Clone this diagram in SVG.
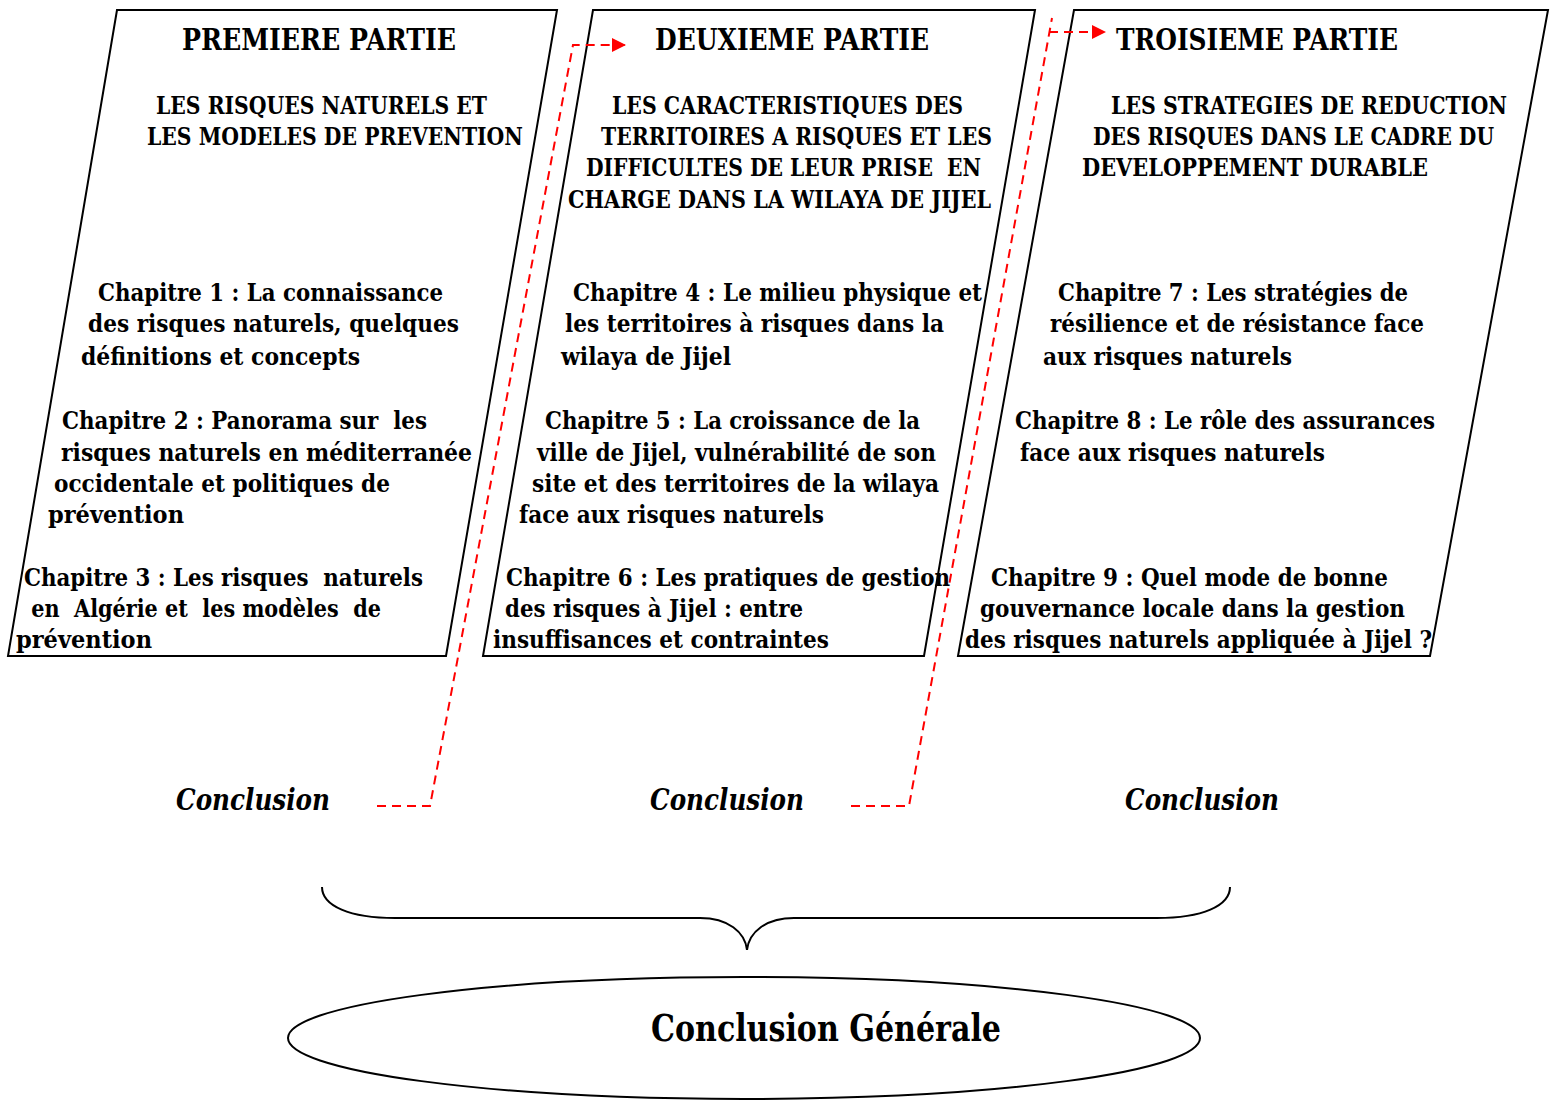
<svg xmlns="http://www.w3.org/2000/svg" width="1551" height="1102" viewBox="0 0 1551 1102">
<style>
.box{fill:#fff;stroke:#000;stroke-width:2}
.h{font-family:"DejaVu Serif","Liberation Serif",serif;font-weight:bold;font-size:30px;fill:#000}
.s{font-family:"DejaVu Serif","Liberation Serif",serif;font-weight:bold;font-size:24px;fill:#000}
.c{font-family:"DejaVu Serif","Liberation Serif",serif;font-weight:bold;font-size:24px;fill:#000}
.con{font-family:"DejaVu Serif","Liberation Serif",serif;font-weight:bold;font-style:italic;font-size:30px;fill:#000}
.g{font-family:"DejaVu Serif","Liberation Serif",serif;font-weight:bold;font-size:38px;fill:#000}
.dash{fill:none;stroke:#f00;stroke-width:2;stroke-dasharray:9,6}
</style>
<defs>
<marker id="arr" viewBox="0 0 10 10" refX="10" refY="5" markerWidth="7.5" markerHeight="7" orient="auto" markerUnits="strokeWidth">
<path d="M0,0 L10,5 L0,10 Z" fill="#f00"/>
</marker>
</defs>
<g id="part1">
<polygon class="box" points="117,10 557,10 446,656 8,656"/>
<text class="h" x="182" y="50" textLength="274" lengthAdjust="spacingAndGlyphs">PREMIERE PARTIE</text>
<text class="s" x="156" y="114" textLength="331" lengthAdjust="spacingAndGlyphs">LES RISQUES NATURELS ET</text>
<text class="s" x="147" y="145" textLength="376" lengthAdjust="spacingAndGlyphs">LES MODELES DE PREVENTION</text>
<text class="c" x="98" y="301" textLength="345" lengthAdjust="spacingAndGlyphs">Chapitre 1 : La connaissance</text>
<text class="c" x="88" y="332" textLength="371" lengthAdjust="spacingAndGlyphs">des risques naturels, quelques</text>
<text class="c" x="81" y="365" textLength="279" lengthAdjust="spacingAndGlyphs">définitions et concepts</text>
<text class="c" x="62" y="429" textLength="365" lengthAdjust="spacingAndGlyphs" xml:space="preserve">Chapitre 2 : Panorama sur  les</text>
<text class="c" x="61" y="461" textLength="411" lengthAdjust="spacingAndGlyphs">risques naturels en méditerranée</text>
<text class="c" x="54" y="492" textLength="336" lengthAdjust="spacingAndGlyphs">occidentale et politiques de</text>
<text class="c" x="48" y="523" textLength="136" lengthAdjust="spacingAndGlyphs">prévention</text>
<text class="c" x="24" y="586" textLength="399" lengthAdjust="spacingAndGlyphs" xml:space="preserve">Chapitre 3 : Les risques  naturels</text>
<text class="c" x="24" y="617" textLength="357" lengthAdjust="spacingAndGlyphs" xml:space="preserve"> en  Algérie et  les modèles  de</text>
<text class="c" x="16" y="648" textLength="136" lengthAdjust="spacingAndGlyphs">prévention</text>
</g>
<g id="part2">
<polygon class="box" points="593,10 1035,10 924,656 483,656"/>
<text class="h" x="655" y="50" textLength="274" lengthAdjust="spacingAndGlyphs">DEUXIEME PARTIE</text>
<text class="s" x="612" y="114" textLength="351" lengthAdjust="spacingAndGlyphs">LES CARACTERISTIQUES DES</text>
<text class="s" x="601" y="145" textLength="391" lengthAdjust="spacingAndGlyphs">TERRITOIRES A RISQUES ET LES</text>
<text class="s" x="586" y="176" textLength="395" lengthAdjust="spacingAndGlyphs" xml:space="preserve">DIFFICULTES DE LEUR PRISE  EN</text>
<text class="s" x="568" y="208" textLength="423" lengthAdjust="spacingAndGlyphs">CHARGE DANS LA WILAYA DE JIJEL</text>
<text class="c" x="573" y="301" textLength="409" lengthAdjust="spacingAndGlyphs">Chapitre 4 : Le milieu physique et</text>
<text class="c" x="565" y="332" textLength="379" lengthAdjust="spacingAndGlyphs">les territoires à risques dans la</text>
<text class="c" x="561" y="365" textLength="170" lengthAdjust="spacingAndGlyphs">wilaya de Jijel</text>
<text class="c" x="545" y="429" textLength="375" lengthAdjust="spacingAndGlyphs">Chapitre 5 : La croissance de la</text>
<text class="c" x="537" y="461" textLength="399" lengthAdjust="spacingAndGlyphs">ville de Jijel, vulnérabilité de son</text>
<text class="c" x="532" y="492" textLength="407" lengthAdjust="spacingAndGlyphs">site et des territoires de la wilaya</text>
<text class="c" x="519" y="523" textLength="305" lengthAdjust="spacingAndGlyphs">face aux risques naturels</text>
<text class="c" x="506" y="586" textLength="444" lengthAdjust="spacingAndGlyphs">Chapitre 6 : Les pratiques de gestion</text>
<text class="c" x="505" y="617" textLength="298" lengthAdjust="spacingAndGlyphs">des risques à Jijel : entre</text>
<text class="c" x="493" y="648" textLength="336" lengthAdjust="spacingAndGlyphs">insuffisances et contraintes</text>
</g>
<g id="part3">
<polygon class="box" points="1074,10 1548,10 1430,656 958,656"/>
<text class="h" x="1116" y="50" textLength="282" lengthAdjust="spacingAndGlyphs">TROISIEME PARTIE</text>
<text class="s" x="1111" y="114" textLength="396" lengthAdjust="spacingAndGlyphs">LES STRATEGIES DE REDUCTION</text>
<text class="s" x="1093" y="145" textLength="401" lengthAdjust="spacingAndGlyphs">DES RISQUES DANS LE CADRE DU</text>
<text class="s" x="1082" y="176" textLength="346" lengthAdjust="spacingAndGlyphs">DEVELOPPEMENT DURABLE</text>
<text class="c" x="1058" y="301" textLength="350" lengthAdjust="spacingAndGlyphs">Chapitre 7 : Les stratégies de</text>
<text class="c" x="1050" y="332" textLength="374" lengthAdjust="spacingAndGlyphs">résilience et de résistance face</text>
<text class="c" x="1043" y="365" textLength="249" lengthAdjust="spacingAndGlyphs">aux risques naturels</text>
<text class="c" x="1015" y="429" textLength="420" lengthAdjust="spacingAndGlyphs">Chapitre 8 : Le rôle des assurances</text>
<text class="c" x="1020" y="461" textLength="305" lengthAdjust="spacingAndGlyphs">face aux risques naturels</text>
<text class="c" x="991" y="586" textLength="397" lengthAdjust="spacingAndGlyphs">Chapitre 9 : Quel mode de bonne</text>
<text class="c" x="980" y="617" textLength="425" lengthAdjust="spacingAndGlyphs">gouvernance locale dans la gestion</text>
<text class="c" x="965" y="648" textLength="467" lengthAdjust="spacingAndGlyphs">des risques naturels appliquée à Jijel ?</text>
</g>
<g id="conclusions">
<text class="con" x="176" y="810" textLength="154" lengthAdjust="spacingAndGlyphs">Conclusion</text>
<text class="con" x="650" y="810" textLength="154" lengthAdjust="spacingAndGlyphs">Conclusion</text>
<text class="con" x="1125" y="810" textLength="154" lengthAdjust="spacingAndGlyphs">Conclusion</text>
</g>
<g id="general">
<ellipse cx="744" cy="1038" rx="456" ry="61" fill="#fff" stroke="#000" stroke-width="2"/>
<text class="g" x="651" y="1041" textLength="350" lengthAdjust="spacingAndGlyphs">Conclusion Générale</text>
</g>
<g id="connectors">
<path class="dash" d="M377,806 L430,806 L573,45 L626,45" marker-end="url(#arr)"/>
<path class="dash" d="M851,806 L909,806 L1052,18"/>
<path class="dash" d="M1049,32 L1106,32" marker-end="url(#arr)"/>
<path id="brace" d="M322,887 C322,906 350,918 395,918 L700,918 C728,918 745,932 747,950 C749,932 766,918 794,918 L1157,918 C1202,918 1230,906 1230,887" fill="none" stroke="#000" stroke-width="2"/>
</g>
</svg>
